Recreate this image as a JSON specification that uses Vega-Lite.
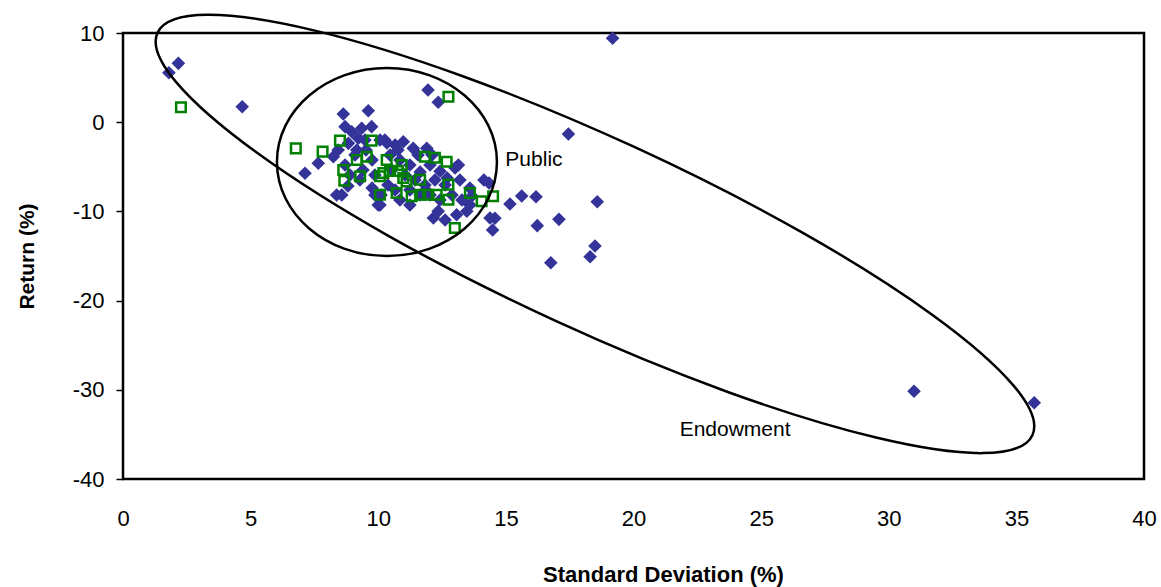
{
  "$schema": "https://vega.github.io/schema/vega-lite/v6.json",
  "width": 1021,
  "height": 446,
  "autosize": {"type": "none"},
  "padding": {"left": 123, "top": 33, "right": 17, "bottom": 108},
  "background": "white",
  "config": {
    "view": {"stroke": "black", "strokeWidth": 2.5},
    "font": "Liberation Sans"
  },
  "datasets": {
    "endowment": [
      {"sd": 2.17, "ret": 6.6}, {"sd": 1.8, "ret": 5.55}, {"sd": 4.67, "ret": 1.74}, {"sd": 19.18, "ret": 9.41},
      {"sd": 30.99, "ret": -30.17}, {"sd": 35.7, "ret": -31.45}, {"sd": 17.45, "ret": -1.32}, {"sd": 15.62, "ret": -8.27},
      {"sd": 16.18, "ret": -8.35}, {"sd": 15.16, "ret": -9.17}, {"sd": 18.58, "ret": -8.91}, {"sd": 14.57, "ret": -10.77},
      {"sd": 14.48, "ret": -12.09}, {"sd": 16.23, "ret": -11.6}, {"sd": 17.08, "ret": -10.89}, {"sd": 18.49, "ret": -13.88},
      {"sd": 18.3, "ret": -15.08}, {"sd": 16.76, "ret": -15.75}, {"sd": 14.14, "ret": -6.48}, {"sd": 14.34, "ret": -6.82},
      {"sd": 8.63, "ret": 0.92}, {"sd": 9.61, "ret": 1.29}, {"sd": 11.95, "ret": 3.61}, {"sd": 12.35, "ret": 2.23},
      {"sd": 8.7, "ret": -0.5}, {"sd": 8.96, "ret": -1.07}, {"sd": 9.35, "ret": -0.68}, {"sd": 9.74, "ret": -0.5},
      {"sd": 9.22, "ret": -1.8}, {"sd": 8.83, "ret": -2.37}, {"sd": 9.16, "ret": -3.12}, {"sd": 8.24, "ret": -3.87},
      {"sd": 7.65, "ret": -4.61}, {"sd": 7.13, "ret": -5.73}, {"sd": 8.37, "ret": -8.16}, {"sd": 8.57, "ret": -8.16},
      {"sd": 10.0, "ret": -9.28}, {"sd": 9.87, "ret": -8.16}, {"sd": 10.26, "ret": -2.0}, {"sd": 10.66, "ret": -2.56},
      {"sd": 10.98, "ret": -2.19}, {"sd": 11.37, "ret": -2.93}, {"sd": 11.9, "ret": -2.93}, {"sd": 13.14, "ret": -4.8},
      {"sd": 10.07, "ret": -2.0}, {"sd": 10.34, "ret": -2.33}, {"sd": 9.52, "ret": -3.12}, {"sd": 9.76, "ret": -4.24},
      {"sd": 8.7, "ret": -4.8}, {"sd": 8.89, "ret": -5.92}, {"sd": 9.28, "ret": -6.48}, {"sd": 9.4, "ret": -5.36},
      {"sd": 9.87, "ret": -5.92}, {"sd": 9.76, "ret": -7.38}, {"sd": 10.38, "ret": -7.04}, {"sd": 10.54, "ret": -5.36},
      {"sd": 10.85, "ret": -4.24}, {"sd": 11.24, "ret": -4.8}, {"sd": 11.56, "ret": -3.68}, {"sd": 11.05, "ret": -5.92},
      {"sd": 11.44, "ret": -6.48}, {"sd": 11.64, "ret": -5.58}, {"sd": 12.03, "ret": -4.8}, {"sd": 12.42, "ret": -5.5},
      {"sd": 13.01, "ret": -5.13}, {"sd": 11.83, "ret": -7.04}, {"sd": 12.22, "ret": -6.48}, {"sd": 12.62, "ret": -7.04},
      {"sd": 13.2, "ret": -6.48}, {"sd": 13.59, "ret": -7.38}, {"sd": 12.03, "ret": -8.16}, {"sd": 12.42, "ret": -8.72},
      {"sd": 12.89, "ret": -8.16}, {"sd": 13.28, "ret": -8.72}, {"sd": 12.16, "ret": -10.74}, {"sd": 12.35, "ret": -9.99},
      {"sd": 13.07, "ret": -10.37}, {"sd": 13.47, "ret": -9.99}, {"sd": 14.38, "ret": -10.74}, {"sd": 10.85, "ret": -8.72},
      {"sd": 11.24, "ret": -9.28}, {"sd": 11.64, "ret": -8.16}, {"sd": 10.66, "ret": -7.6}, {"sd": 10.11, "ret": -8.16},
      {"sd": 10.46, "ret": -3.68}, {"sd": 9.09, "ret": -3.68}, {"sd": 8.43, "ret": -3.12}, {"sd": 11.24, "ret": -7.6},
      {"sd": 12.7, "ret": -6.26}, {"sd": 13.67, "ret": -8.27}, {"sd": 8.81, "ret": -7.15}, {"sd": 13.59, "ret": -9.28},
      {"sd": 12.62, "ret": -10.96}, {"sd": 10.07, "ret": -9.28}, {"sd": 11.87, "ret": -7.6}, {"sd": 10.77, "ret": -3.12},
      {"sd": 12.11, "ret": -3.68}, {"sd": 9.48, "ret": -2.0}
    ],
    "public": [
      {"sd": 2.27, "ret": 1.67}, {"sd": 6.77, "ret": -2.93}, {"sd": 7.82, "ret": -3.3}, {"sd": 8.5, "ret": -2.07},
      {"sd": 9.74, "ret": -2.07}, {"sd": 9.16, "ret": -4.24}, {"sd": 9.55, "ret": -3.87}, {"sd": 8.63, "ret": -5.36},
      {"sd": 8.67, "ret": -6.56}, {"sd": 9.29, "ret": -6.06}, {"sd": 10.07, "ret": -6.06}, {"sd": 10.07, "ret": -8.13},
      {"sd": 12.75, "ret": 2.86}, {"sd": 10.33, "ret": -4.24}, {"sd": 10.92, "ret": -4.8}, {"sd": 10.2, "ret": -5.7},
      {"sd": 10.46, "ret": -5.47}, {"sd": 10.77, "ret": -5.47}, {"sd": 10.98, "ret": -6.26}, {"sd": 10.72, "ret": -7.94},
      {"sd": 11.11, "ret": -6.63}, {"sd": 11.64, "ret": -6.45}, {"sd": 11.64, "ret": -8.13}, {"sd": 11.31, "ret": -8.3},
      {"sd": 11.96, "ret": -8.13}, {"sd": 12.29, "ret": -8.13}, {"sd": 12.75, "ret": -7.0}, {"sd": 12.75, "ret": -8.69},
      {"sd": 13.59, "ret": -7.94}, {"sd": 14.05, "ret": -8.87}, {"sd": 14.5, "ret": -8.3}, {"sd": 13.0, "ret": -11.86},
      {"sd": 11.83, "ret": -3.87}, {"sd": 12.22, "ret": -3.98}, {"sd": 12.68, "ret": -4.43}
    ],
    "publicEllipse": [{"sd": 10.34, "ret": -4.46}],
    "endowmentEllipse": [{"sd": 18.49, "ret": -12.53}],
    "labels": [
      {"sd": 16.1, "ret": -4.24, "name": "Public"},
      {"sd": 23.98, "ret": -34.5, "name": "Endowment"}
    ]
  },
  "encoding": {
    "x": {
      "field": "sd",
      "type": "quantitative",
      "scale": {"domain": [0, 40], "nice": false, "zero": false},
      "axis": {
        "values": [0, 5, 10, 15, 20, 25, 30, 35, 40],
        "grid": false, "ticks": false, "tickSize": 0, "domain": false,
        "labelFont": "Liberation Sans", "labelFontSize": 22, "labelColor": "black",
        "labelPadding": 29, "labelFlush": false, "labelOverlap": false,
        "title": "Standard Deviation (%)", "titleFont": "Liberation Sans",
        "titleFontSize": 22, "titleFontWeight": "bold", "titleColor": "black",
        "titlePadding": 35, "titleX": 540
      }
    },
    "y": {
      "field": "ret",
      "type": "quantitative",
      "scale": {"domain": [-40, 10], "nice": false, "zero": false},
      "axis": {
        "values": [10, 0, -10, -20, -30, -40],
        "labelExpr": "'' + datum.value",
        "grid": false, "ticks": true, "tickSize": 7, "tickColor": "black", "tickWidth": 1.5,
        "domain": false,
        "labelFont": "Liberation Sans", "labelFontSize": 22, "labelColor": "black",
        "labelPadding": 12, "labelFlush": false, "labelOverlap": false,
        "title": "Return (%)", "titleFont": "Liberation Sans",
        "titleFontSize": 21, "titleFontWeight": "bold", "titleColor": "black",
        "titlePadding": 35
      }
    }
  },
  "layer": [
    {
      "data": {"name": "endowment"},
      "mark": {"type": "point", "shape": "diamond", "filled": true, "color": "#333399", "size": 185, "opacity": 1, "strokeWidth": 0}
    },
    {
      "data": {"name": "public"},
      "mark": {"type": "point", "shape": "square", "filled": false, "color": "#008000", "size": 92, "opacity": 1, "strokeWidth": 2.5}
    },
    {
      "data": {"name": "publicEllipse"},
      "mark": {
        "type": "point", "filled": false, "color": "black", "opacity": 1, "strokeWidth": 2.5, "size": 48400,
        "shape": "M1,0C1,0.4719,0.5523,0.8545,0,0.8545C-0.5523,0.8545,-1,0.4719,-1,0C-1,-0.4719,-0.5523,-0.8545,0,-0.8545C0.5523,-0.8545,1,-0.4719,1,0Z"
      }
    },
    {
      "data": {"name": "endowmentEllipse"},
      "mark": {
        "type": "point", "filled": false, "color": "black", "opacity": 1, "strokeWidth": 2.5, "size": 927369, "angle": 24.7,
        "shape": "M1,0C1,0.1095,0.5523,0.1983,0,0.1983C-0.5523,0.1983,-1,0.1095,-1,0C-1,-0.1095,-0.5523,-0.1983,0,-0.1983C0.5523,-0.1983,1,-0.1095,1,0Z"
      }
    },
    {
      "data": {"name": "labels"},
      "mark": {"type": "text", "font": "Liberation Sans", "fontSize": 21, "color": "black", "align": "center", "baseline": "middle"},
      "encoding": {"text": {"field": "name", "type": "nominal"}}
    }
  ]
}
